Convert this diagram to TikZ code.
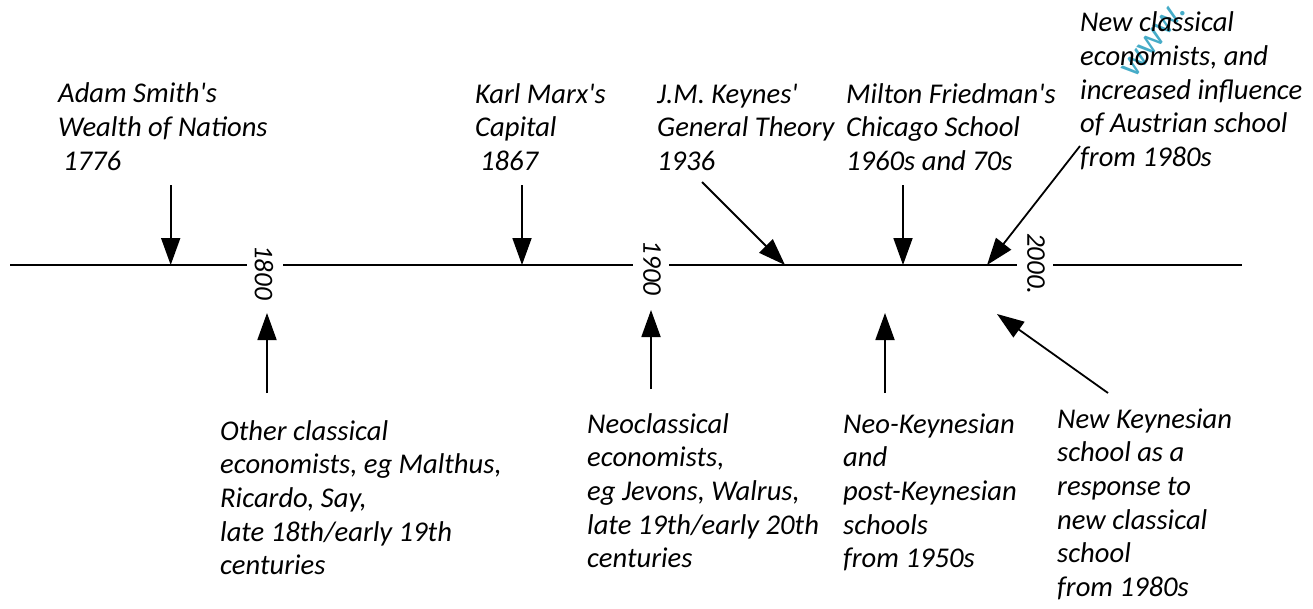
\documentclass[tikz,border=0pt]{standalone}
\usepackage{fontspec}
\setmainfont{Carlito}
\usetikzlibrary{arrows.meta}
\definecolor{wmcol}{RGB}{70,172,200}
\newcommand\lbl[1]{\begin{tabular}[t]{@{}l@{}}#1\end{tabular}}
\newcommand\q{\textquotesingle}
\begin{document}
\begin{tikzpicture}[x=1pt,y=-1pt,
  txt/.style={inner sep=0pt, anchor=base west, font=\fontsize{28.6}{33.7}\selectfont\itshape},
  yr/.style={inner sep=0pt, rotate=-90, font=\fontsize{27}{30}\selectfont\itshape},
  axisline/.style={line width=1.8pt},
  arr/.style={line width=1.8pt, -{Triangle[length=27pt,width=19pt]}}]
\fill[white] (0,0) rectangle (1313,608);
\useasboundingbox (0,0) rectangle (1313,608);

% timeline
\coordinate (l0) at (10,265);
\coordinate (l1) at (247,265);
\coordinate (l2) at (283,265);
\coordinate (l3) at (633,265);
\coordinate (l4) at (669,265);
\coordinate (l5) at (1017,265);
\coordinate (l6) at (1053,265);
\coordinate (l7) at (1242,265);
\draw[axisline] (l0) -- (l1) (l2) -- (l3) (l4) -- (l5) (l6) -- (l7);

\node[yr] (y1800) at (264,272.5) {1800};
\node[yr] (y1900) at (652,268) {1900};
\node[yr] (y2000) at (1036,264) {2000.};

% watermark
\node[inner sep=0pt, anchor=base west, rotate=52, text=wmcol, font=\fontsize{37}{40}\selectfont] (wm) at (1134,80) {www.};

% labels above
\node[txt] (smith) at (58,102.7) {\lbl{Adam Smith\q s\\Wealth of Nations\\\hspace{5pt}1776}};
\node[txt] (marx) at (475,103) {\lbl{Karl Marx\q s\\Capital\\\hspace{5pt}1867}};
\node[txt] (keynes) at (657,103) {\lbl{J.M. Keynes\q\\General Theory\\1936}};
\node[txt] (friedman) at (846,103) {\lbl{Milton Friedman\q s\\Chicago School\\1960s and 70s}};
\node[txt] (newclass) at (1080,31.7) {\lbl{New classical\\economists, and\\increased influence\\of Austrian school\\from 1980s}};

% labels below
\node[txt] (other) at (220,440) {\lbl{Other classical\\economists, eg Malthus,\\Ricardo, Say,\\late 18th/early 19th\\centuries}};
\node[txt] (neocl) at (587,433) {\lbl{Neoclassical\\economists,\\eg Jevons, Walrus,\\late 19th/early 20th\\centuries}};
\node[txt] (neok) at (843,433) {\lbl{Neo-Keynesian\\and\\post-Keynesian\\schools\\from 1950s}};
\node[txt] (newk) at (1057,428) {\lbl{New Keynesian\\school as a\\response to\\new classical\\school\\from 1980s}};

% arrow ends
\coordinate (s0) at (170.7,185); \coordinate (s1) at (170.7,265);
\coordinate (m0) at (522,185);   \coordinate (m1) at (522,265);
\coordinate (k0) at (702,182);   \coordinate (k1) at (785,265);
\coordinate (f0) at (903,185);   \coordinate (f1) at (903,265);
\coordinate (n0) at (1080,146);  \coordinate (n1) at (987,265);
\coordinate (o0) at (267,393);   \coordinate (o1) at (267,313);
\coordinate (c0) at (651,389);   \coordinate (c1) at (651,310);
\coordinate (p0) at (885,393);   \coordinate (p1) at (885,313);
\coordinate (w0) at (1108,393);  \coordinate (w1) at (997,314);

\draw[arr] (s0) -- (s1);
\draw[arr] (m0) -- (m1);
\draw[arr] (k0) -- (k1);
\draw[arr] (f0) -- (f1);
\draw[arr] (n0) -- (n1);
\draw[arr] (o0) -- (o1);
\draw[arr] (c0) -- (c1);
\draw[arr] (p0) -- (p1);
\draw[arr] (w0) -- (w1);
\end{tikzpicture}
\end{document}
